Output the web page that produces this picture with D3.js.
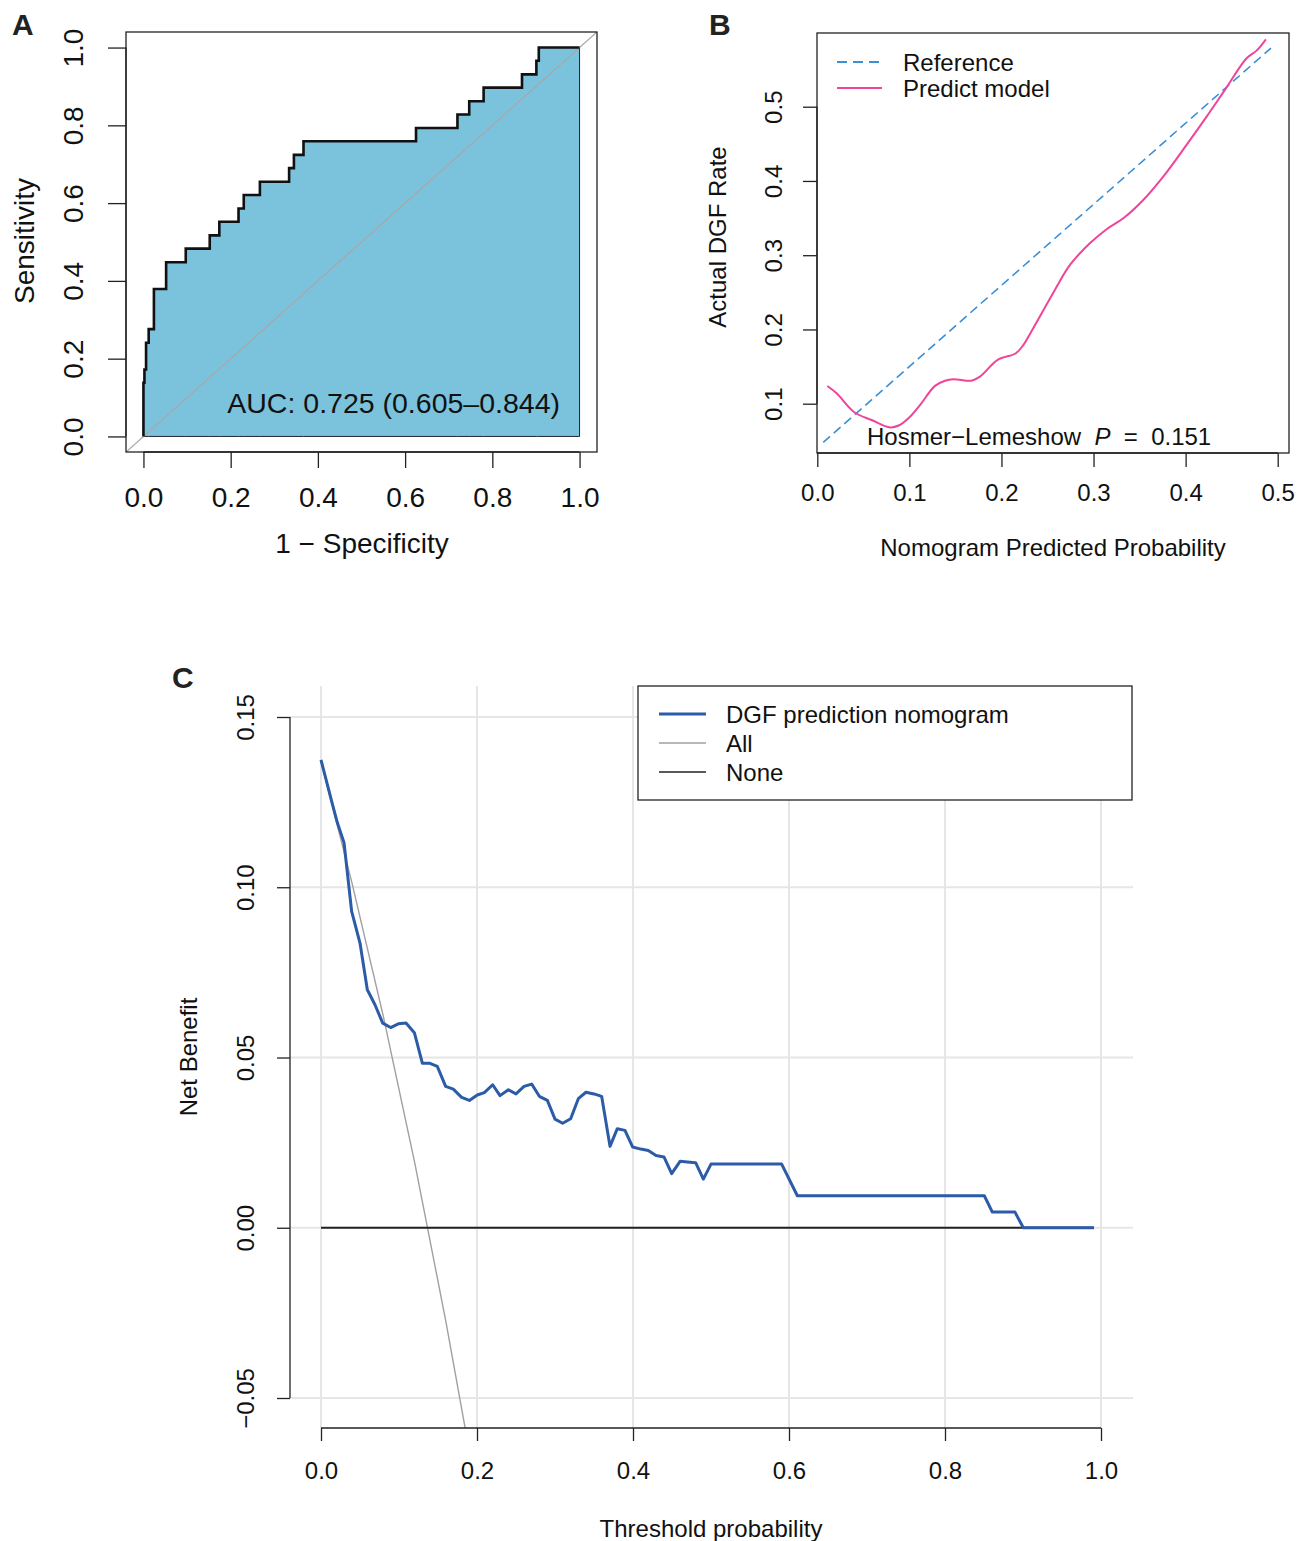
<!DOCTYPE html>
<html>
<head>
<meta charset="utf-8">
<script src="https://cdn.jsdelivr.net/npm/d3@7"></script>
<style>
  body { margin: 0; background: #fff; }
  svg { font-family: "Liberation Sans", Arial, Helvetica, sans-serif; }
  text { white-space: pre; }
</style>
</head>
<body>
<svg id="chart" width="1304" height="1541"></svg>
<script>
// ---- Panel A: ROC curve (corner points, step-before) ----
const rocFpr = [0, 0.0023, 0.006, 0.012, 0.024, 0.052, 0.097, 0.152, 0.174, 0.218, 0.23, 0.267,
  0.334, 0.345, 0.367, 0.625, 0.72, 0.747, 0.78, 0.868, 0.901, 0.9065, 1.0];
const rocTpr = [0, 0.138, 0.172, 0.241, 0.276, 0.379, 0.448, 0.483, 0.517, 0.552, 0.586, 0.621,
  0.655, 0.69, 0.724, 0.759, 0.793, 0.828, 0.862, 0.897, 0.931, 0.966, 1.0];
const rocTicks = [0, 0.2, 0.4, 0.6, 0.8, 1.0];
const aucLabel = "AUC: 0.725 (0.605–0.844)";

// ---- Panel B: calibration ----
const calPred = [0.0109, 0.021, 0.0402, 0.059, 0.079, 0.089, 0.0996, 0.1115, 0.1278, 0.1387, 0.1477,
  0.1676, 0.1767, 0.1959, 0.2157, 0.2237, 0.2345, 0.256, 0.2744, 0.296, 0.3142, 0.3323, 0.354,
  0.3757, 0.401, 0.4228, 0.4427, 0.4662, 0.477, 0.4872];
const calObs = [0.1239, 0.114, 0.0885, 0.078, 0.068, 0.071, 0.081, 0.098, 0.124, 0.131, 0.133,
  0.131, 0.1365, 0.159, 0.168, 0.179, 0.2016, 0.2487, 0.2869, 0.316, 0.335, 0.3497, 0.3744,
  0.4058, 0.4485, 0.4866, 0.5226, 0.5652, 0.5755, 0.5908];
const refPred = [0.0065, 0.4927];
const refObs = [0.048, 0.579];
const calXTicks = [0, 0.1, 0.2, 0.3, 0.4, 0.5];
const calYTicks = [0.1, 0.2, 0.3, 0.4, 0.5];
const calLegend = ["Reference", "Predict model"];

// ---- Panel C: decision curve ----
const dcaThreshold = [0, 0.0137, 0.0209, 0.0295, 0.0393, 0.05, 0.0594, 0.0692, 0.0791, 0.0893,
  0.0991, 0.109, 0.1197, 0.13, 0.1397, 0.1491, 0.1598, 0.1696, 0.1803, 0.1902, 0.2004, 0.2094,
  0.2201, 0.2295, 0.2402, 0.25, 0.2603, 0.2701, 0.2799, 0.2902, 0.3, 0.3098, 0.3201, 0.3299,
  0.3397, 0.35, 0.3598, 0.3705, 0.3799, 0.3897, 0.3996, 0.4099, 0.4196, 0.4295, 0.4397, 0.4496,
  0.4603, 0.4696, 0.4803, 0.4902, 0.5, 0.5906, 0.6107, 0.8504, 0.8607, 0.8897, 0.9004, 0.991];
const dcaModel = [0.1374, 0.1252, 0.119, 0.1131, 0.0929, 0.0836, 0.0699, 0.0655, 0.0601, 0.0588,
  0.0599, 0.0601, 0.0573, 0.0483, 0.0483, 0.0474, 0.0415, 0.0407, 0.0383, 0.0374, 0.039, 0.0397,
  0.042, 0.0388, 0.0405, 0.0393, 0.0415, 0.0422, 0.0386, 0.0374, 0.0319, 0.0307, 0.032, 0.0379,
  0.0398, 0.0393, 0.0386, 0.0239, 0.0291, 0.0286, 0.0237, 0.0231, 0.0227, 0.0212, 0.0208, 0.0159,
  0.0195, 0.0193, 0.0191, 0.0143, 0.0187, 0.0187, 0.0094, 0.0094, 0.0046, 0.0046, 0, 0];
const allThreshold = [0, 0.04, 0.08, 0.12, 0.16, 0.19];
const allBenefit = [0.137, 0.101, 0.062, 0.0193, -0.0274, -0.0654];
const noneThreshold = [0, 0.991];
const noneBenefit = [0, 0];
const dcaXTicks = [0, 0.2, 0.4, 0.6, 0.8, 1.0];
const dcaYTicks = [-0.05, 0, 0.05, 0.10, 0.15];
const dcaLegend = ["DGF prediction nomogram", "All", "None"];

const svg = d3.select("#chart");
const zip = (xs, ys) => xs.map((x, i) => [x, ys[i]]);
const fmt1 = d3.format(".1f");
const fmt2 = d => d3.format(".2f")(d).replace("-", "\u2212");

// helper: axis with R-like look (line only spans first..last tick)
function bottomAxis(g, scale, ticks, size, pad, fontSize, fmt) {
  g.call(d3.axisBottom(scale).tickValues(ticks).tickFormat(fmt)
      .tickSize(size).tickSizeOuter(0).tickPadding(pad));
  g.select(".domain").remove();
  g.append("line").attr("x1", scale(ticks[0])).attr("x2", scale(ticks[ticks.length - 1]))
    .attr("stroke", "#222").attr("stroke-width", 1.3);
  g.selectAll(".tick line").attr("stroke", "#222").attr("stroke-width", 1.3);
  g.selectAll(".tick text").attr("fill", "#111").style("font-size", fontSize + "px")
    .style("font-family", "Liberation Sans, Arial, sans-serif");
}
function leftAxis(g, scale, ticks, size, off, fontSize, fmt) {
  g.call(d3.axisLeft(scale).tickValues(ticks).tickFormat(fmt)
      .tickSize(size).tickSizeOuter(0));
  g.select(".domain").remove();
  g.append("line").attr("y1", scale(ticks[0])).attr("y2", scale(ticks[ticks.length - 1]))
    .attr("stroke", "#222").attr("stroke-width", 1.3);
  g.selectAll(".tick line").attr("stroke", "#222").attr("stroke-width", 1.3);
  g.selectAll(".tick text")
    .attr("x", 0).attr("y", -off).attr("dy", "0.36em")
    .attr("text-anchor", "middle").attr("transform", "rotate(-90)")
    .attr("fill", "#111").style("font-size", fontSize + "px")
    .style("font-family", "Liberation Sans, Arial, sans-serif");
}
function label(x, y, txt, size, rotate) {
  return svg.append("text")
    .attr("text-anchor", "middle").attr("dy", "0.36em")
    .style("font-size", size + "px").attr("fill", "#111")
    .attr("transform", `translate(${x},${y})` + (rotate ? " rotate(-90)" : ""))
    .text(txt);
}
function panelLetter(x, y, txt) {
  svg.append("text").attr("x", x).attr("y", y).text(txt)
    .style("font-size", "30px").style("font-weight", "bold").attr("fill", "#222");
}

// ================= Panel A =================
{
  const x = d3.scaleLinear().domain([-0.04, 1.04]).range([126, 597]);
  const y = d3.scaleLinear().domain([-0.04, 1.04]).range([452, 32]);
  const pts = zip(rocFpr, rocTpr);

  const area = d3.area().x(d => x(d[0])).y0(y(0)).y1(d => y(d[1])).curve(d3.curveStepBefore);
  svg.append("path").datum(pts).attr("d", area)
    .attr("fill", "#7BC2DC").attr("stroke", "#223").attr("stroke-width", 1);

  const clipA = svg.append("clipPath").attr("id", "clipA");
  clipA.append("rect").attr("x", 126).attr("y", 32).attr("width", 471).attr("height", 420);
  svg.append("line").attr("clip-path", "url(#clipA)")
    .attr("x1", x(-0.04)).attr("y1", y(-0.04)).attr("x2", x(1.04)).attr("y2", y(1.04))
    .attr("stroke", "#A8A8A8").attr("stroke-width", 1.3);

  const line = d3.line().x(d => x(d[0])).y(d => y(d[1])).curve(d3.curveStepBefore);
  svg.append("path").datum(pts).attr("d", line)
    .attr("fill", "none").attr("stroke", "#111").attr("stroke-width", 2.6);

  svg.append("rect").attr("x", 126).attr("y", 32).attr("width", 471).attr("height", 420)
    .attr("fill", "none").attr("stroke", "#222").attr("stroke-width", 1.3);

  bottomAxis(svg.append("g").attr("transform", "translate(0,452)"), x, rocTicks, 16, 19, 28, fmt1);
  leftAxis(svg.append("g").attr("transform", "translate(126,0)"), y, rocTicks, 18, 53, 28, fmt1);

  svg.append("text").attr("x", 560).attr("y", 413).attr("text-anchor", "end")
    .style("font-size", "28.5px").attr("fill", "#111").text(aucLabel);

  label(362, 543, "1 \u2212 Specificity", 28, false);
  label(24, 241, "Sensitivity", 28, true);
  panelLetter(12, 35, "A");
}

// ================= Panel B =================
{
  const x = d3.scaleLinear().domain([0, 0.5]).range([817.3, 1277.7]);
  const y = d3.scaleLinear().domain([0.1, 0.5]).range([403.7, 106.7]);

  svg.append("rect").attr("x", 817).attr("y", 33).attr("width", 472).attr("height", 420)
    .attr("fill", "none").attr("stroke", "#222").attr("stroke-width", 1.3);

  const line = d3.line().x(d => x(d[0])).y(d => y(d[1]));
  svg.append("path").datum(zip(refPred, refObs)).attr("d", line)
    .attr("fill", "none").attr("stroke", "#3A8FD6").attr("stroke-width", 1.6)
    .attr("stroke-dasharray", "9,5");
  svg.append("path").datum(zip(calPred, calObs))
    .attr("d", line.curve(d3.curveCatmullRom.alpha(0.5)))
    .attr("fill", "none").attr("stroke", "#F0449A").attr("stroke-width", 2);

  bottomAxis(svg.append("g").attr("transform", "translate(0,453)"), x, calXTicks, 14, 17, 24, fmt1);
  leftAxis(svg.append("g").attr("transform", "translate(817,0)"), y, calYTicks, 14, 44, 24, fmt1);

  // legend
  const legColors = ["#3A8FD6", "#F0449A"];
  calLegend.forEach((name, i) => {
    const ly = 62 + i * 26;
    svg.append("line").attr("x1", 837).attr("x2", 882).attr("y1", ly).attr("y2", ly)
      .attr("stroke", legColors[i]).attr("stroke-width", i === 0 ? 1.8 : 2)
      .attr("stroke-dasharray", i === 0 ? "10,6" : null);
    svg.append("text").attr("x", 903).attr("y", ly).attr("dy", "0.36em")
      .style("font-size", "24px").attr("fill", "#111").text(name);
  });

  const hl = svg.append("text").attr("x", 867).attr("y", 445)
    .style("font-size", "24px").attr("fill", "#111");
  hl.append("tspan").text("Hosmer\u2212Lemeshow  ");
  hl.append("tspan").style("font-style", "italic").text("P");
  hl.append("tspan").text("  =  0.151");

  label(1053, 547, "Nomogram Predicted Probability", 24, false);
  label(717, 237, "Actual DGF Rate", 24, true);
  panelLetter(709, 35, "B");
}

// ================= Panel C =================
{
  const x = d3.scaleLinear().domain([0, 1]).range([321, 1101]);
  const y = d3.scaleLinear().domain([-0.05, 0.15]).range([1398, 717]);
  const left = 290, right = 1133, top = 686, bottom = 1428;

  const grid = svg.append("g");
  dcaXTicks.forEach(t => grid.append("line").attr("x1", x(t)).attr("x2", x(t))
    .attr("y1", top).attr("y2", bottom).attr("stroke", "#E6E6E6").attr("stroke-width", 2));
  dcaYTicks.forEach(t => grid.append("line").attr("x1", left).attr("x2", right)
    .attr("y1", y(t)).attr("y2", y(t)).attr("stroke", "#E6E6E6").attr("stroke-width", 2));

  svg.append("clipPath").attr("id", "clipC").append("rect")
    .attr("x", left).attr("y", top).attr("width", right - left).attr("height", bottom - top);

  const line = d3.line().x(d => x(d[0])).y(d => y(d[1]));
  svg.append("path").datum(zip(allThreshold, allBenefit)).attr("d", line)
    .attr("clip-path", "url(#clipC)")
    .attr("fill", "none").attr("stroke", "#A0A0A0").attr("stroke-width", 1.4);
  svg.append("path").datum(zip(noneThreshold, noneBenefit)).attr("d", line)
    .attr("fill", "none").attr("stroke", "#222").attr("stroke-width", 2);
  svg.append("path").datum(zip(dcaThreshold, dcaModel)).attr("d", line)
    .attr("fill", "none").attr("stroke", "#2C5BA8").attr("stroke-width", 3)
    .attr("stroke-linejoin", "round");

  bottomAxis(svg.append("g").attr("transform", `translate(0,${bottom})`), x, dcaXTicks, 13, 21, 24, fmt1);
  leftAxis(svg.append("g").attr("transform", `translate(${left},0)`), y, dcaYTicks, 13, 45, 24, fmt2);

  // legend
  svg.append("rect").attr("x", 638).attr("y", 686).attr("width", 494).attr("height", 114)
    .attr("fill", "#fff").attr("stroke", "#222").attr("stroke-width", 1.3);
  const legColors = ["#2C5BA8", "#A0A0A0", "#222"];
  const legWidths = [3, 1.4, 1.6];
  dcaLegend.forEach((name, i) => {
    const ly = 714 + i * 29;
    svg.append("line").attr("x1", 659).attr("x2", 706).attr("y1", ly).attr("y2", ly)
      .attr("stroke", legColors[i]).attr("stroke-width", legWidths[i]);
    svg.append("text").attr("x", 726).attr("y", ly).attr("dy", "0.36em")
      .style("font-size", "24px").attr("fill", "#111").text(name);
  });

  label(711, 1528, "Threshold probability", 24, false);
  label(188, 1057, "Net Benefit", 24, true);
  panelLetter(172, 688, "C");
}
</script>
</body>
</html>
